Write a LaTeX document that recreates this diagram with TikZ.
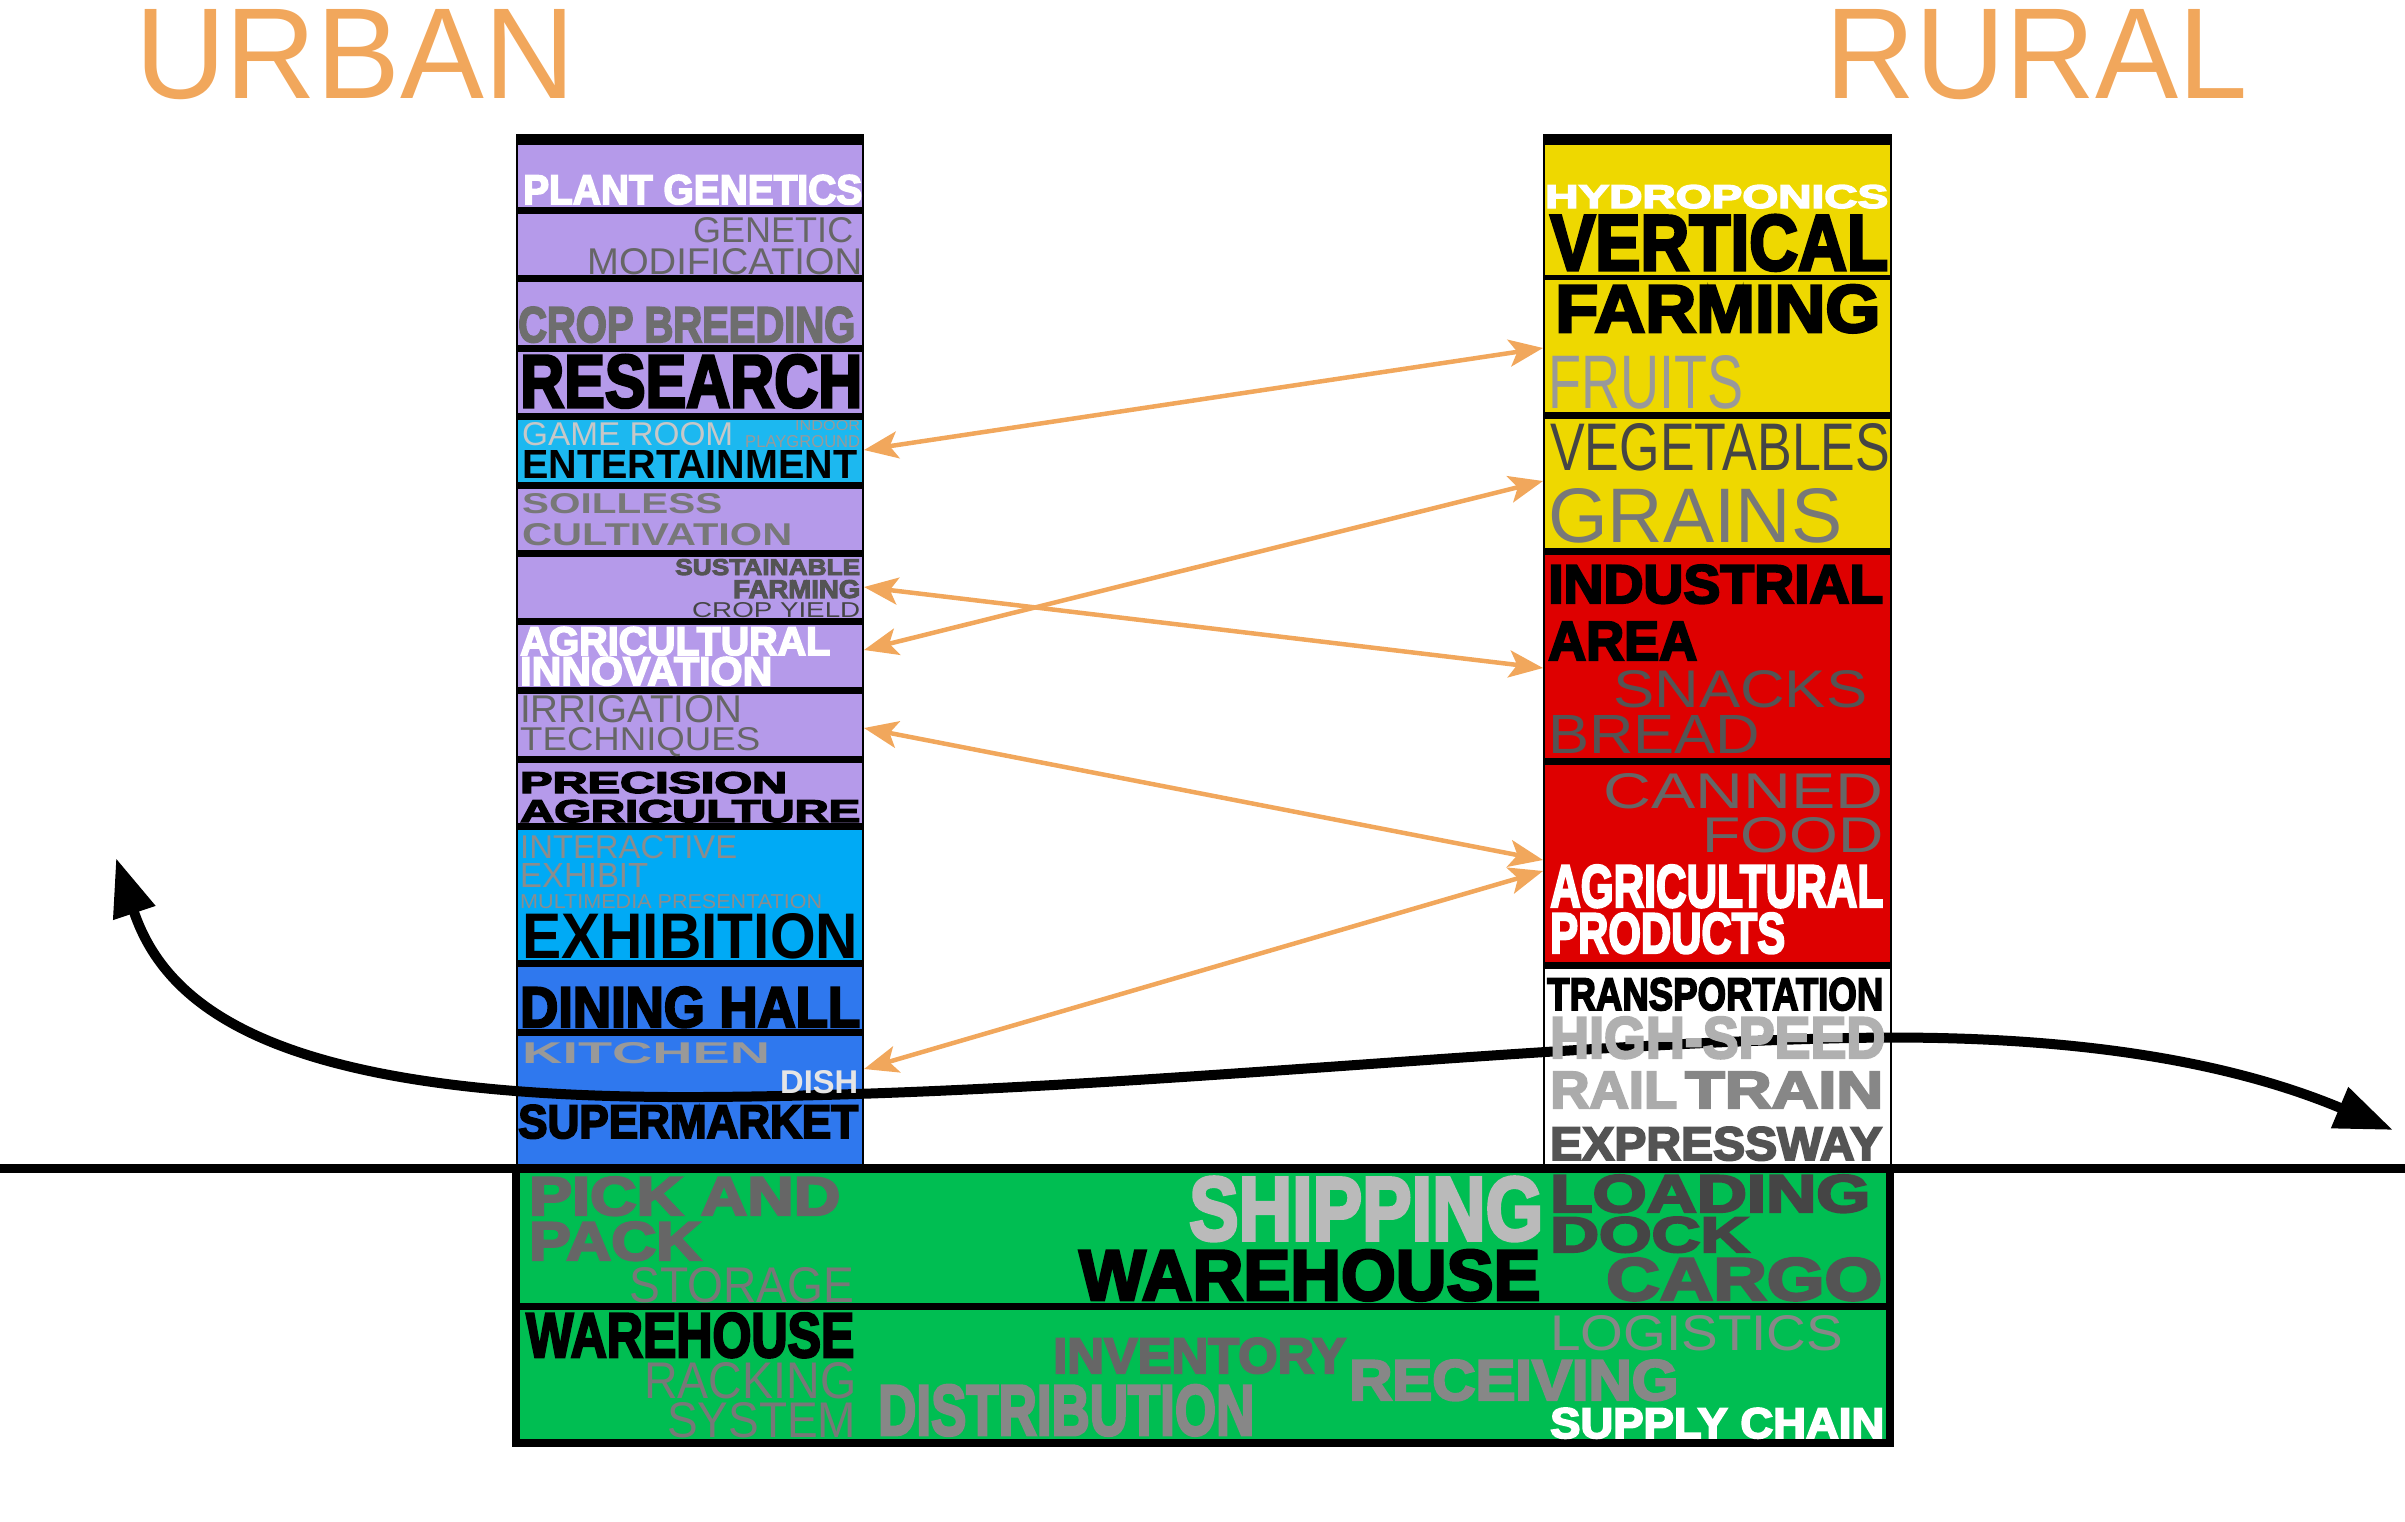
\documentclass[tikz,border=0pt]{standalone}
\usepackage{fontspec}
\setmainfont{Liberation Sans}
\newfontface\blackface[FakeBold=4]{Liberation Sans Bold}
\usepackage{graphicx}
\usepackage{xcolor}
\usepackage{tikz}
\usetikzlibrary{arrows.meta}

\definecolor{lav}{RGB}{181,154,234}
\definecolor{cyanrow}{RGB}{28,184,240}
\definecolor{cyanexh}{RGB}{0,170,245}
\definecolor{bluerow}{RGB}{47,120,238}
\definecolor{yel}{RGB}{238,216,0}
\definecolor{redrow}{RGB}{222,0,0}
\definecolor{grn}{RGB}{0,190,82}
\definecolor{orng}{RGB}{241,167,92}

\newcommand{\wordbox}[3]{\resizebox{#1pt}{#2pt}{#3}}

\begin{document}
\begin{tikzpicture}[
    x=1pt, y=-1pt,
    fat/.style={anchor=base west, inner sep=0pt, font=\blackface},
    heavy/.style={anchor=base west, inner sep=0pt, font=\bfseries},
    light/.style={anchor=base west, inner sep=0pt, font=\mdseries},
    sep/.style={line width=7pt},
    link/.style={draw=orng, line width=4.5pt,
        {Stealth[length=34pt,width=27pt,inset=8pt]}-{Stealth[length=34pt,width=27pt,inset=8pt]}},
    flow/.style={line width=10pt,
        {Triangle[length=58pt,width=42pt]}-{Triangle[length=58pt,width=42pt]}}
]
    \useasboundingbox (0,0) rectangle (2405,1521);

    \fill[lav] (517,145) rectangle (863,420);
    \fill[cyanrow] (517,420) rectangle (863,485);
    \fill[lav] (517,485) rectangle (863,830);
    \fill[cyanexh] (517,830) rectangle (863,963);
    \fill[bluerow] (517,963) rectangle (863,1164);
    \fill (517,134) rectangle (863,145);
    \draw[sep] (517,210.5) -- (863,210.5) (517,278.5) -- (863,278.5)
        (517,348) -- (863,348) (517,416.5) -- (863,416.5)
        (517,485) -- (863,485) (517,553.5) -- (863,553.5)
        (517,621.5) -- (863,621.5) (517,690) -- (863,690)
        (517,759.5) -- (863,759.5) (517,826.5) -- (863,826.5)
        (517,963.5) -- (863,963.5) (517,1032) -- (863,1032);
    \draw[line width=2pt] (517,134) -- (517,1164) (863,134) -- (863,1164);

    \fill[yel] (1544,145) rectangle (1891,552);
    \fill[redrow] (1544,552) rectangle (1891,965);
    \fill (1544,134) rectangle (1891,145);
    \draw[line width=5pt] (1544,277.5) -- (1891,277.5);
    \draw[sep] (1544,415.5) -- (1891,415.5) (1544,551.5) -- (1891,551.5)
        (1544,761.5) -- (1891,761.5) (1544,965) -- (1891,965);
    \draw[line width=2pt] (1544,134) -- (1544,1164) (1891,134) -- (1891,1164);

    \fill[grn] (516,1168) rectangle (1890,1443);
    \draw[line width=8pt] (516,1168) rectangle (1890,1443);
    \draw[sep] (516,1306.5) -- (1890,1306.5);
    \draw[line width=9.5pt] (0,1168.5) -- (2405,1168.5);

    \coordinate (west) at (116,858);
    \coordinate (mid1) at (700,1097);
    \coordinate (mid2) at (1850,1038);
    \coordinate (east) at (2393,1130);
    \draw[flow] (west) .. controls (170,1020) and (300,1099) .. (mid1)
        .. controls (1100,1095) and (1500,1045) .. (mid2)
        .. controls (2100,1033) and (2250,1070) .. (east);

    \coordinate (a1l) at (864,450);
    \coordinate (a1r) at (1543,348);
    \coordinate (a2l) at (864,650);
    \coordinate (a2r) at (1543,481);
    \coordinate (a3l) at (864,587);
    \coordinate (a3r) at (1543,668);
    \coordinate (a4l) at (864,728);
    \coordinate (a4r) at (1543,860);
    \coordinate (a5l) at (864,1069);
    \coordinate (a5r) at (1543,871);
    \draw[link] (a1l) -- (a1r);
    \draw[link] (a2l) -- (a2r);
    \draw[link] (a3l) -- (a3r);
    \draw[link] (a4l) -- (a4r);
    \draw[link] (a5l) -- (a5r);

    \node[light, text=orng] (urban) at (135,98) {\wordbox{440}{89}{URBAN}};
    \node[light, text=orng] (rural) at (1825,98) {\wordbox{422}{89}{RURAL}};

    \node[fat, text=white] (plantgen) at (523,204) {\wordbox{339}{29}{PLANT GENETICS}};
    \node[light, text=black!60] (genetic) at (693,242) {\wordbox{160}{25}{GENETIC}};
    \node[light, text=black!60] (modif) at (587,274) {\wordbox{275}{26}{MODIFICATION}};
    \node[fat, text=black!57] (cropbreed) at (518,342) {\wordbox{337}{35}{CROP BREEDING}};
    \node[fat] (research) at (520,407) {\wordbox{342}{52}{RESEARCH}};
    \node[light, text=black!22] (gameroom) at (522,445) {\wordbox{211}{23}{GAME ROOM}};
    \node[light, text=black!40] (indoor) at (795,430) {\wordbox{65}{10}{INDOOR}};
    \node[light, text=black!40] (playground) at (745,447) {\wordbox{115}{12}{PLAYGROUND}};
    \node[heavy] (entertain) at (522,478) {\wordbox{335}{28}{ENTERTAINMENT}};
    \node[heavy, text=black!53] (soilless) at (522,513) {\wordbox{200}{20}{SOILLESS}};
    \node[heavy, text=black!53] (cultiv) at (522,545) {\wordbox{270}{22}{CULTIVATION}};
    \node[fat, text=black!67] (sustain) at (675,575) {\wordbox{185}{16}{SUSTAINABLE}};
    \node[fat, text=black!67] (farmingl) at (733,598) {\wordbox{127}{18}{FARMING}};
    \node[light, text=black!73] (cropyield) at (692,617) {\wordbox{168}{15}{CROP YIELD}};
    \node[fat, text=white] (agril) at (520,655) {\wordbox{310}{28}{AGRICULTURAL}};
    \node[fat, text=white] (innov) at (520,685) {\wordbox{252}{28}{INNOVATION}};
    \node[light, text=black!60] (irrig) at (520,722) {\wordbox{222}{27}{IRRIGATION}};
    \node[light, text=black!60] (techn) at (520,750) {\wordbox{240}{23}{TECHNIQUES}};
    \node[fat] (precision) at (520,793) {\wordbox{267}{21}{PRECISION}};
    \node[fat] (agricult) at (520,822) {\wordbox{340}{22}{AGRICULTURE}};
    \node[light, text=black!45] (interact) at (520,858) {\wordbox{217}{23}{INTERACTIVE}};
    \node[light, text=black!45] (exhibit) at (520,887) {\wordbox{128}{24}{EXHIBIT}};
    \node[light, text=black!45] (multimedia) at (520,908) {\wordbox{302}{14}{MULTIMEDIA PRESENTATION}};
    \node[heavy] (exhibition) at (522,958) {\wordbox{336}{45}{EXHIBITION}};
    \node[fat] (dining) at (520,1027) {\wordbox{340}{40}{DINING HALL}};
    \node[heavy, text=black!40] (kitchen) at (522,1063) {\wordbox{248}{21}{KITCHEN}};
    \node[heavy, text=black!10] (dish) at (780,1093) {\wordbox{78}{23}{DISH}};
    \node[fat] (supermkt) at (518,1138) {\wordbox{340}{33}{SUPERMARKET}};

    \node[fat, text=white] (hydro) at (1545,208) {\wordbox{343}{23}{HYDROPONICS}};
    \node[fat] (vertical) at (1550,270) {\wordbox{338}{55}{VERTICAL}};
    \node[fat] (farmingr) at (1555,332) {\wordbox{325}{47}{FARMING}};
    \node[light, text=black!40] (fruits) at (1548,408) {\wordbox{195}{53}{FRUITS}};
    \node[light, text=black!73] (veget) at (1550,470) {\wordbox{340}{47}{VEGETABLES}};
    \node[light, text=black!53] (grains) at (1548,542) {\wordbox{294}{54}{GRAINS}};
    \node[fat] (industrial) at (1548,603) {\wordbox{335}{38}{INDUSTRIAL}};
    \node[fat] (area) at (1548,660) {\wordbox{149}{38}{AREA}};
    \node[light, text=black!67] (snacks) at (1613,707) {\wordbox{254}{37}{SNACKS}};
    \node[light, text=black!67] (bread) at (1548,753) {\wordbox{212}{38}{BREAD}};
    \node[light, text=black!60] (canned) at (1603,808) {\wordbox{280}{35}{CANNED}};
    \node[light, text=black!60] (food) at (1702,852) {\wordbox{181}{35}{FOOD}};
    \node[fat, text=white] (agrir) at (1550,907) {\wordbox{333}{42}{AGRICULTURAL}};
    \node[fat, text=white] (products) at (1550,953) {\wordbox{235}{40}{PRODUCTS}};
    \node[fat] (transport) at (1547,1010) {\wordbox{336}{32}{TRANSPORTATION}};
    \node[fat, text=black!31] (highspeed) at (1550,1058) {\wordbox{335}{41}{HIGH-SPEED}};
    \node[fat, text=black!33] (rail) at (1550,1108) {\wordbox{127}{36}{RAIL}};
    \node[fat, text=black!47] (train) at (1685,1108) {\wordbox{198}{36}{TRAIN}};
    \node[fat, text=black!67] (express) at (1550,1160) {\wordbox{332}{33}{EXPRESSWAY}};

    \node[fat, text=black!60] (pickand) at (529,1215) {\wordbox{311}{38}{PICK AND}};
    \node[fat, text=black!60] (pack) at (529,1260) {\wordbox{172}{38}{PACK}};
    \node[light, text=black!53] (storage) at (629,1302) {\wordbox{225}{35}{STORAGE}};
    \node[fat, text=black!27] (shipping) at (1189,1240) {\wordbox{354}{63}{SHIPPING}};
    \node[fat] (warehouset) at (1079,1300) {\wordbox{461}{50}{WAREHOUSE}};
    \node[fat, text=black!73] (loading) at (1550,1212) {\wordbox{320}{37}{LOADING}};
    \node[fat, text=black!73] (dock) at (1550,1252) {\wordbox{199}{35}{DOCK}};
    \node[fat, text=black!67] (cargo) at (1606,1300) {\wordbox{276}{42}{CARGO}};
    \node[fat] (warehouseb) at (526,1357) {\wordbox{328}{44}{WAREHOUSE}};
    \node[light, text=black!53] (racking) at (644,1398) {\wordbox{212}{36}{RACKING}};
    \node[light, text=black!53] (system) at (667,1437) {\wordbox{189}{35}{SYSTEM}};
    \node[fat, text=black!47] (distrib) at (878,1435) {\wordbox{376}{50}{DISTRIBUTION}};
    \node[fat, text=black!60] (inventory) at (1053,1373) {\wordbox{293}{35}{INVENTORY}};
    \node[fat, text=black!47] (receiving) at (1349,1400) {\wordbox{329}{40}{RECEIVING}};
    \node[light, text=black!47] (logistics) at (1550,1350) {\wordbox{293}{35}{LOGISTICS}};
    \node[fat, text=white] (supply) at (1550,1438) {\wordbox{334}{30}{SUPPLY CHAIN}};
\end{tikzpicture}
\end{document}
